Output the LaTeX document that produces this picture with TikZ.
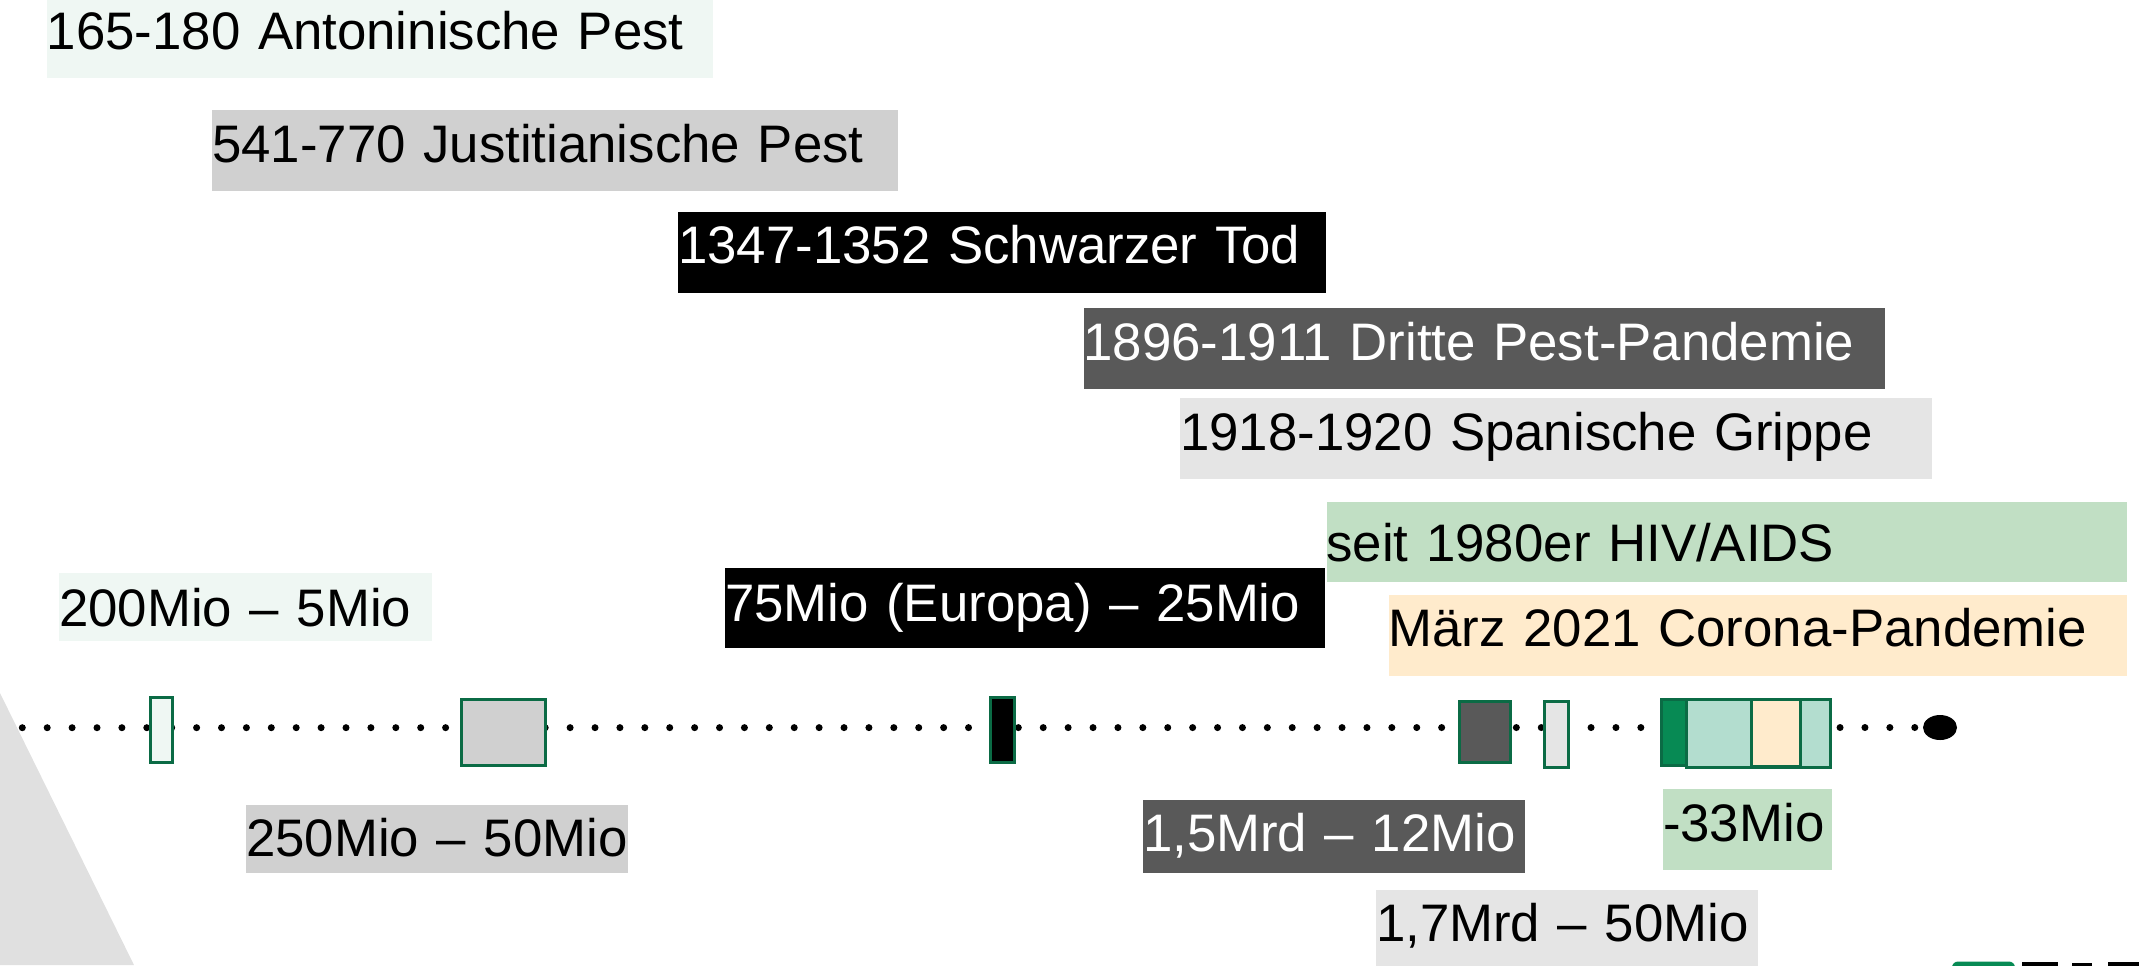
\documentclass[tikz,border=0pt]{standalone}
\usepackage{fontspec}
\setmainfont{Liberation Sans}
\usetikzlibrary{shapes.geometric}
\definecolor{cmint}{HTML}{EFF7F3}
\definecolor{cgrey}{HTML}{D0D0D0}
\definecolor{cdark}{HTML}{595959}
\definecolor{clight}{HTML}{E5E5E5}
\definecolor{cgreenbox}{HTML}{C1DFC4}
\definecolor{cpeach}{HTML}{FFEBCC}
\definecolor{cstroke}{HTML}{0B6B45}
\definecolor{cdeep}{HTML}{078A54}
\definecolor{caqua}{HTML}{B3DDCF}
\definecolor{ctri}{HTML}{E0E0E0}
\begin{document}
\begin{tikzpicture}[x=0.5bp,y=-0.5bp,
  lbl/.style={anchor=base west, inner sep=0bp, outer sep=0bp, align=left,
              font=\fontsize{26.4bp}{31bp}\selectfont},
  mk/.style={draw=cstroke, line width=1.5bp, inner sep=0bp, outer sep=0bp, anchor=north west},
  dotline/.style={line width=3.5bp, line cap=round, dash pattern=on 0bp off 12.45bp},
]
\useasboundingbox (0,0) rectangle (2139,965);

% grey triangle at the left
\fill[ctri] (0,693) -- (134,965) -- (0,965) -- cycle;

% timeline
\coordinate (tlstart) at (22.3,727.7);
\node[ellipse, fill=black, inner sep=0bp, minimum width=17bp, minimum height=12.5bp] (tlend) at (1940,727.5) {};
\draw[dotline] (tlstart) -- (tlend);

% markers
\node[mk, fill=cmint, minimum width=11.35bp, minimum height=32.8bp] (m1) at (150,697.2) {};
\node[mk, fill=cgrey, minimum width=42.15bp, minimum height=33bp] (m2) at (461.5,699.5) {};
\node[mk, fill=black, minimum width=11.85bp, minimum height=32.8bp] (m3) at (990.8,697.2) {};
\node[mk, fill=cdark, minimum width=25.5bp, minimum height=30.65bp] (m4) at (1459.5,701.5) {};
\node[mk, fill=clight, minimum width=11.8bp, minimum height=33.15bp] (m5) at (1544.5,701.5) {};
\node[mk, fill=cdeep, minimum width=12.5bp, minimum height=33bp] (m6a) at (1661.5,699.5) {};
\node[mk, fill=caqua, minimum width=72bp, minimum height=33.85bp] (m6b) at (1686.5,699.5) {};
\node[mk, fill=cpeach, minimum width=24.5bp, minimum height=33.5bp] (m6c) at (1751.5,699.5) {};

% event labels
\node[lbl, fill=cmint, text=black, text width=333.15bp, text height=24.65bp, text depth=14.35bp] (ta) at (46.7,49.3) {165-180 Antoninische Pest};
\node[lbl, fill=cgrey, text=black, text width=343bp, text height=26.15bp, text depth=14.2bp] (tb) at (212,162.3) {541-770 Justitianische Pest};
\node[lbl, fill=black, text=white, text width=324bp, text height=25.5bp, text depth=14.7bp] (tc) at (678,263.3) {1347-1352 Schwarzer Tod};
\node[lbl, fill=cdark, text=white, text width=400.6bp, text height=26.15bp, text depth=14.35bp] (td) at (1083.5,360) {1896-1911 Dritte Pest-Pandemie};
\node[lbl, fill=clight, text=black, text width=376bp, text height=26bp, text depth=14.5bp] (te) at (1180,450) {1918-1920 Spanische Grippe};
\node[lbl, fill=cgreenbox, text=black, text width=400.25bp, text height=30.1bp, text depth=10bp] (tf) at (1326.5,561.7) {seit 1980er HIV/AIDS};
\node[lbl, fill=cpeach, text=black, text width=369.25bp, text height=25.5bp, text depth=15bp] (tg) at (1388.5,646) {März 2021 Corona-Pandemie};

% death toll labels
\node[lbl, fill=cmint, text=black, text width=186.5bp, text height=26.35bp, text depth=7.35bp] (th) at (59,626) {200Mio – 5Mio};
\node[lbl, fill=black, text=white, text width=300bp, text height=26.7bp, text depth=13.3bp] (ti) at (725,621.7) {75Mio (Europa) – 25Mio};
\node[lbl, fill=cgrey, text=black, text width=191bp, text height=25.85bp, text depth=8bp] (tj) at (246,856.7) {250Mio – 50Mio};
\node[lbl, fill=cdark, text=white, text width=191bp, text height=25.85bp, text depth=10.5bp] (tk) at (1143,851.7) {1,5Mrd – 12Mio};
\node[lbl, fill=clight, text=black, text width=190.85bp, text height=25.85bp, text depth=16.65bp] (tl) at (1376,941.7) {1,7Mrd – 50Mio};
\node[lbl, fill=cgreenbox, text=black, text width=84.5bp, text height=26.35bp, text depth=14.15bp] (tm) at (1663,841.7) {-33Mio};

% logo fragment at the bottom right
\fill[cdeep, rounded corners=3bp] (1952,961.5) rectangle (2015,975);
\fill[black] (2022,962) rectangle (2058,975);
\fill[black] (2072,963) rectangle (2092,975);
\fill[black] (2108,962) rectangle (2139,975);
\end{tikzpicture}
\end{document}
